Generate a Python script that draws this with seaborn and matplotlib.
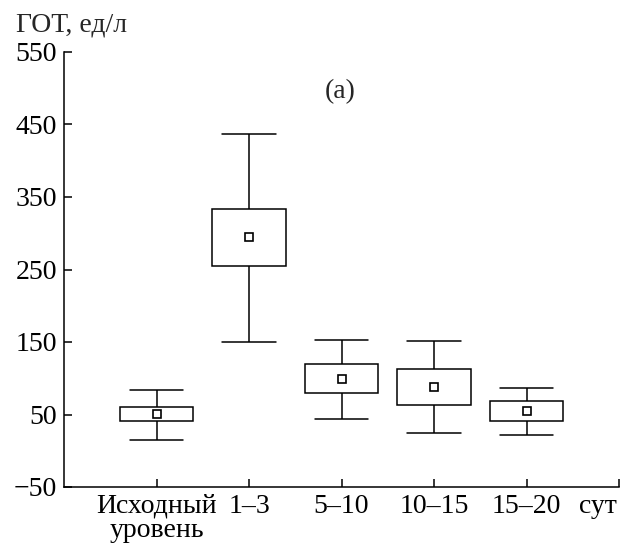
import matplotlib
matplotlib.use("Agg")
import matplotlib.pyplot as plt
import seaborn as sns
import pandas as pd

categories = ["Исходный\nуровень", "1–3", "5–10", "10–15", "15–20"]
whisker_low = [15, 150, 44, 25, 22]
q1 = [41, 255, 79, 63, 41]
q3 = [61, 334, 119, 113, 69]
whisker_high = [84, 437, 153, 151, 87]
means = [51, 295, 99, 88, 55]
yticks = [-50, 50, 150, 250, 350, 450, 550]

sns.set_theme(style="white")
plt.rcParams["font.family"] = ["Liberation Serif", "DejaVu Serif"]
plt.rcParams["axes.unicode_minus"] = True

rows = []
for c, lo, a, m, b, hi in zip(categories, whisker_low, q1, means, q3, whisker_high):
    for v in (lo, a, m, b, hi):
        rows.append({"cat": c, "val": v})
df = pd.DataFrame(rows)
dfm = pd.DataFrame({"cat": categories, "val": means})

fig = plt.figure(figsize=(6.23, 5.47), dpi=100)
ax = fig.add_axes([64 / 623, 1 - 487 / 547, (619 - 64) / 623, (487 - 52) / 547])

sns.boxplot(data=df, x="cat", y="val", order=categories, ax=ax,
            whis=(0, 100), showfliers=False, width=0.79,
            color="white", linecolor="black", linewidth=1.1,
            medianprops={"visible": False}, capwidths=0.58)
sns.pointplot(data=dfm, x="cat", y="val", order=categories, ax=ax,
              errorbar=None, linestyle="none", marker="s", color="black",
              markersize=5.5, markerfacecolor="white",
              markeredgecolor="black", markeredgewidth=1.2)

ax.set_xlim(-1, 5)
ax.set_ylim(-50, 550)
ax.set_yticks(yticks)
ax.set_yticklabels([f"{t}".replace("-", "−") for t in yticks])
ax.set_xticks([0, 1, 2, 3, 4, 4.77])
ax.set_xticklabels(categories + ["сут"])
ax.set_xticks([5], minor=True)
ax.set_xlabel("")
ax.set_ylabel("")

for s in ["top", "right"]:
    ax.spines[s].set_visible(False)
for s in ["left", "bottom"]:
    ax.spines[s].set_color("black")
    ax.spines[s].set_linewidth(1.1)

ax.tick_params(axis="both", which="both", direction="in", length=6, width=1.1,
               colors="black", labelsize=20, left=True, bottom=True)
ax.tick_params(axis="y", pad=5)
ax.tick_params(axis="x", pad=5)
for lab in ax.get_xticklabels():
    lab.set_linespacing(0.95)
ax.xaxis.get_major_ticks()[5].tick1line.set_visible(False)

ax.text(1.99, 495, "(a)", ha="center", va="center", fontsize=20)
fig.text(16 / 623, 1 - 25 / 547, "ГОТ, ед/л", ha="left", va="center", fontsize=20)

fig.savefig("out.png", dpi=100)
